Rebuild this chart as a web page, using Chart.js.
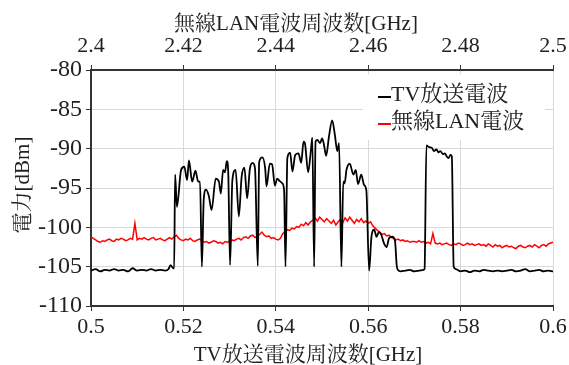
<!DOCTYPE html>
<html>
<head>
<meta charset="utf-8">
<script src="https://cdn.jsdelivr.net/npm/chart.js@4.4.1/dist/chart.umd.min.js"></script>
<style>
html,body{margin:0;padding:0;background:#fff;}
#wrap{width:569px;height:365px;}
</style>
</head>
<body>
<div id="wrap"><canvas id="c" width="569" height="365"></canvas></div>
<script>
// ---- data ----
const tvLabel = "TV放送電波";
const wlanLabel = "無線LAN電波";
const tvAxisTitle = "TV放送電波周波数[GHz]";
const wlanAxisTitle = "無線LAN電波周波数[GHz]";
const powerAxisTitle = "電力[dBm]";

const tvTicks = [0.5, 0.52, 0.54, 0.56, 0.58, 0.6];
const wlanTicks = [2.4, 2.42, 2.44, 2.46, 2.48, 2.5];
const powerTicks = [-110, -105, -100, -95, -90, -85, -80];

const tvFreq = [
  0.500,0.501,0.502,0.503,0.504,0.505,0.506,0.507,0.508,0.509,
  0.510,0.511,0.512,0.513,0.514,0.515,0.516,0.5168,0.5172,0.5178,
  0.5180,0.5182,0.5186,0.5195,0.5202,0.5208,0.5212,0.5219,0.5226,0.5232,
  0.5236,0.5240,0.5244,0.5249,0.5255,0.5261,0.5270,0.5277,0.5281,0.5286,
  0.5290,0.5294,0.5297,0.5301,0.5306,0.5313,0.5320,0.5326,0.5332,0.5338,
  0.5344,0.5350,0.5355,0.5361,0.5364,0.5371,0.5377,0.5380,0.5387,0.5392,
  0.5398,0.5403,0.5408,0.5414,0.5418,0.5421,0.5425,0.5431,0.5436,0.5442,
  0.5449,0.5455,0.5460,0.5463,0.5470,0.5476,0.5479,0.5483,0.5486,0.5490,
  0.5496,0.5500,0.5504,0.5509,0.5515,0.5522,0.5528,0.5533,0.5537,0.5542,
  0.5546,0.5549,0.5553,0.5560,0.5568,0.5573,0.5578,0.5585,0.5591,0.5596,
  0.5602,0.5607,0.5613,0.5618,0.5623,0.5628,0.5634,0.5640,0.5645,0.5652,
  0.5658,0.5662,0.5666,0.567,0.568,0.569,0.570,0.571,0.572,0.5722,
  0.5726,0.5732,0.5738,0.5742,0.5748,0.5752,0.5756,0.5762,0.5766,0.5770,
  0.5774,0.5778,0.5781,0.5785,0.5790,0.580,0.581,0.582,0.583,0.584,
  0.585,0.586,0.587,0.588,0.589,0.590,0.591,0.592,0.593,0.594,
  0.595,0.596,0.597,0.598,0.599,0.600
];
const tvPower = [
  -105.5,-105.3,-105.6,-105.4,-105.5,-105.3,-105.5,-105.4,-105.6,-105.2,
  -105.5,-105.4,-105.5,-105.3,-105.5,-105.4,-105.5,-105.3,-104.8,-105.2,
  -105.2,-93.3,-97.4,-92.7,-92.3,-94.0,-91.5,-94.2,-92.8,-94.2,
  -94.2,-105.0,-96.5,-95.2,-96.0,-97.8,-93.8,-94.2,-95.7,-92.7,
  -93.0,-91.6,-92.9,-104.8,-94.0,-92.7,-98.6,-93.6,-92.4,-96.3,
  -92.5,-91.8,-92.5,-104.9,-91.7,-91.1,-92.5,-94.8,-91.9,-92.0,
  -94.7,-93.8,-94.1,-94.4,-95.3,-105.0,-91.2,-90.5,-92.9,-90.8,
  -90.6,-91.8,-89.1,-89.3,-93.0,-90.2,-88.6,-105.0,-89.1,-88.9,
  -89.3,-88.7,-89.4,-90.9,-88.5,-86.4,-88.3,-90.3,-89.3,-105.0,
  -94.2,-94.4,-92.7,-91.9,-93.3,-92.7,-94.5,-93.3,-94.6,-95.3,
  -105.5,-101.2,-100.3,-101.2,-100.6,-100.9,-102.0,-102.5,-101.4,-101.2,
  -101.7,-105.0,-105.5,-105.6,-105.5,-105.4,-105.6,-105.5,-105.4,-105.3,
  -89.6,-89.8,-89.9,-90.3,-90.1,-90.5,-90.3,-90.7,-90.6,-91.0,
  -91.2,-90.8,-91.0,-105.0,-105.3,-105.6,-105.5,-105.7,-105.5,-105.6,
  -105.4,-105.5,-105.6,-105.5,-105.6,-105.5,-105.4,-105.6,-105.5,-105.3,
  -105.6,-105.5,-105.4,-105.6,-105.5,-105.6
];

const wlanFreq = [
  2.4000,2.4005,2.4010,2.4015,2.4020,2.4025,2.4030,2.4035,2.4040,2.4045,
  2.4050,2.4055,2.4060,2.4065,2.4070,2.4075,2.4080,2.4085,2.4090,2.4095,
  2.4100,2.4105,2.4110,2.4115,2.4120,2.4125,2.4130,2.4135,2.4140,2.4145,
  2.4150,2.4155,2.4160,2.4165,2.4170,2.4175,2.4180,2.4185,2.4190,2.4195,
  2.4200,2.4205,2.4210,2.4215,2.4220,2.4225,2.4230,2.4235,2.4240,2.4245,
  2.4250,2.4255,2.4260,2.4265,2.4270,2.4275,2.4280,2.4285,2.4290,2.4295,
  2.4300,2.4305,2.4310,2.4315,2.4320,2.4325,2.4330,2.4335,2.4340,2.4345,
  2.4350,2.4355,2.4360,2.4365,2.4370,2.4375,2.4380,2.4385,2.4390,2.4395,
  2.4400,2.4405,2.4410,2.4415,2.4420,2.4425,2.4430,2.4435,2.4440,2.4445,
  2.4450,2.4455,2.4460,2.4465,2.4470,2.4475,2.4480,2.4485,2.4490,2.4495,
  2.4500,2.4505,2.4510,2.4515,2.4520,2.4525,2.4530,2.4535,2.4540,2.4545,
  2.4550,2.4555,2.4560,2.4565,2.4570,2.4575,2.4580,2.4585,2.4590,2.4595,
  2.4600,2.4605,2.4610,2.4615,2.4620,2.4625,2.4630,2.4635,2.4640,2.4645,
  2.4650,2.4655,2.4660,2.4665,2.4670,2.4675,2.4680,2.4685,2.4690,2.4695,
  2.4700,2.4705,2.4710,2.4715,2.4720,2.4725,2.4730,2.4735,2.4740,2.4745,
  2.4750,2.4755,2.4760,2.4765,2.4770,2.4775,2.4780,2.4785,2.4790,2.4795,
  2.4800,2.4805,2.4810,2.4815,2.4820,2.4825,2.4830,2.4835,2.4840,2.4845,
  2.4850,2.4855,2.4860,2.4865,2.4870,2.4875,2.4880,2.4885,2.4890,2.4895,
  2.4900,2.4905,2.4910,2.4915,2.4920,2.4925,2.4930,2.4935,2.4940,2.4945,
  2.4950,2.4955,2.4960,2.4965,2.4970,2.4975,2.4980,2.4985,2.4990,2.4995,
  2.5000
];
const wlanPower = [
  -101.2,-101.4,-101.6,-101.8,-101.9,-101.7,-101.8,-101.6,-101.5,-101.7,
  -101.8,-101.5,-101.6,-101.4,-101.5,-101.7,-101.6,-101.4,-101.5,-99.5,
  -101.6,-101.4,-101.5,-101.3,-101.5,-101.6,-101.4,-101.3,-101.6,-101.5,
  -101.4,-101.6,-101.7,-101.5,-101.3,-101.5,-101.2,-101.0,-101.4,-101.6,
  -101.7,-101.5,-101.6,-101.4,-101.7,-101.8,-101.6,-101.5,-101.7,-101.9,
  -101.8,-102.0,-101.9,-101.7,-101.8,-102.0,-101.9,-102.1,-101.8,-101.9,
  -101.8,-101.6,-101.7,-101.5,-101.4,-101.6,-101.3,-101.2,-101.4,-101.1,
  -101.0,-101.3,-101.1,-100.9,-100.6,-101.0,-101.2,-101.1,-101.4,-101.3,
  -101.5,-101.6,-101.4,-100.8,-100.5,-100.3,-100.4,-100.1,-100.2,-99.9,
  -100.0,-99.6,-99.8,-99.4,-99.7,-99.3,-99.1,-98.8,-99.2,-98.7,
  -99.0,-99.3,-98.9,-99.2,-99.5,-99.1,-99.7,-99.3,-99.0,-99.4,
  -98.8,-99.2,-98.7,-99.1,-99.5,-99.0,-99.3,-98.9,-99.4,-99.2,
  -99.5,-99.3,-99.8,-100.1,-100.4,-100.6,-100.9,-100.8,-101.1,-101.0,
  -101.3,-101.4,-101.6,-101.5,-101.7,-101.6,-101.8,-101.7,-101.9,-101.8,
  -101.8,-101.9,-101.7,-101.9,-101.8,-102.0,-101.9,-102.1,-100.8,-102.0,
  -102.1,-102.0,-102.2,-102.1,-102.0,-102.2,-102.3,-102.1,-102.2,-102.0,
  -102.1,-102.3,-102.2,-102.0,-102.2,-102.1,-102.3,-102.2,-102.1,-102.3,
  -102.2,-102.4,-102.1,-102.3,-102.5,-102.2,-102.4,-102.3,-102.6,-102.4,
  -102.3,-102.5,-102.4,-102.6,-102.7,-102.4,-102.3,-102.5,-102.6,-102.4,
  -102.3,-102.5,-102.2,-102.4,-102.6,-102.3,-102.2,-102.4,-102.1,-102.0,
  -101.9
];

// ---- chart ----
const FONT = "'Liberation Serif', 'Noto Serif CJK JP', 'Noto Sans CJK JP', serif";
const TXT = '#222';
const GRID = '#d9d9d9';

const tvData = tvFreq.map((f, i) => ({x: f, y: tvPower[i]}));
const wlanData = wlanFreq.map((f, i) => ({x: f, y: wlanPower[i]}));

function setTicks(list) {
  return function(scale) { scale.ticks = list.map(v => ({value: v})); };
}
function fmt(v) { return String(+(+v).toFixed(3)); }

const legendAndTitles = {
  id: 'legendAndTitles',
  afterDraw(chart) {
    const ctx = chart.ctx;
    ctx.save();
    // legend box
    ctx.fillStyle = '#fff';
    ctx.fillRect(363, 74, 182, 66);
    const items = chart.data.datasets;
    const ys = [97, 124];
    ctx.font = '22px ' + FONT;
    ctx.textBaseline = 'middle';
    ctx.textAlign = 'left';
    items.forEach((ds, i) => {
      ctx.strokeStyle = ds.borderColor;
      ctx.lineWidth = 2;
      ctx.beginPath();
      ctx.moveTo(378, ys[i]);
      ctx.lineTo(391, ys[i]);
      ctx.stroke();
      ctx.fillStyle = TXT;
      ctx.fillText(ds.label, 391, ys[i] - 2);
    });
    // axis titles
    ctx.font = '21px ' + FONT;
    ctx.textAlign = 'center';
    ctx.textBaseline = 'middle';
    ctx.fillStyle = TXT;
    ctx.fillText(wlanAxisTitle, 296, 24);
    ctx.fillText(tvAxisTitle, 308, 355);
    ctx.translate(23, 185);
    ctx.rotate(-Math.PI / 2);
    ctx.fillText(powerAxisTitle, 0, 0);
    ctx.restore();
  }
};

function edgeTransparent(keepMax) {
  return function(c) {
    const s = c.scale;
    if (c.tick && (c.tick.value === s.min || (!keepMax && c.tick.value === s.max))) return 'rgba(0,0,0,0)';
    return GRID;
  };
}

new Chart(document.getElementById('c'), {
  type: 'line',
  data: {
    datasets: [
      {label: tvLabel, data: tvData, xAxisID: 'x', yAxisID: 'y', borderColor: '#000000', borderWidth: 1.8, pointRadius: 0, cubicInterpolationMode: 'monotone', fill: false},
      {label: wlanLabel, data: wlanData, xAxisID: 'x2', yAxisID: 'y', borderColor: '#ff0000', borderWidth: 1.5, pointRadius: 0, tension: 0, fill: false}
    ]
  },
  options: {
    responsive: false,
    devicePixelRatio: 1,
    animation: false,
    layout: {padding: {left: 0, right: 16, top: 0, bottom: 0}},
    plugins: {legend: {display: false}, tooltip: {enabled: false}},
    scales: {
      x: {
        type: 'linear', position: 'bottom', min: 0.5, max: 0.6,
        afterBuildTicks: setTicks(tvTicks),
        afterFit(s) { s.height = 59; s.paddingLeft = 0; s.paddingRight = 0; },
        grid: {color: edgeTransparent(true), tickColor: '#333', tickLength: 5, lineWidth: 1},
        border: {color: '#333', width: 2},
        ticks: {font: {family: FONT, size: 22}, color: TXT, padding: 3, maxRotation: 0, callback: v => fmt(v)}
      },
      x2: {
        type: 'linear', position: 'top', min: 2.4, max: 2.5,
        afterBuildTicks: setTicks(wlanTicks),
        afterFit(s) { s.height = 70; s.paddingLeft = 0; s.paddingRight = 0; },
        grid: {drawOnChartArea: false, color: '#333', tickColor: '#333', tickLength: 5},
        border: {color: '#333', width: 2},
        ticks: {font: {family: FONT, size: 22}, color: TXT, padding: 6, maxRotation: 0, callback: v => fmt(v)}
      },
      y: {
        type: 'linear', position: 'left', min: -110, max: -80,
        afterBuildTicks: setTicks(powerTicks),
        afterFit(s) { s.width = 91; s.paddingTop = 0; s.paddingBottom = 0; },
        grid: {color: edgeTransparent(false), tickColor: '#333', tickLength: 5, lineWidth: 1},
        border: {color: '#333', width: 2},
        ticks: {font: {family: FONT, size: 24}, color: TXT, padding: 4, callback: v => fmt(v)}
      }
    }
  },
  plugins: [legendAndTitles]
});
</script>
</body>
</html>
